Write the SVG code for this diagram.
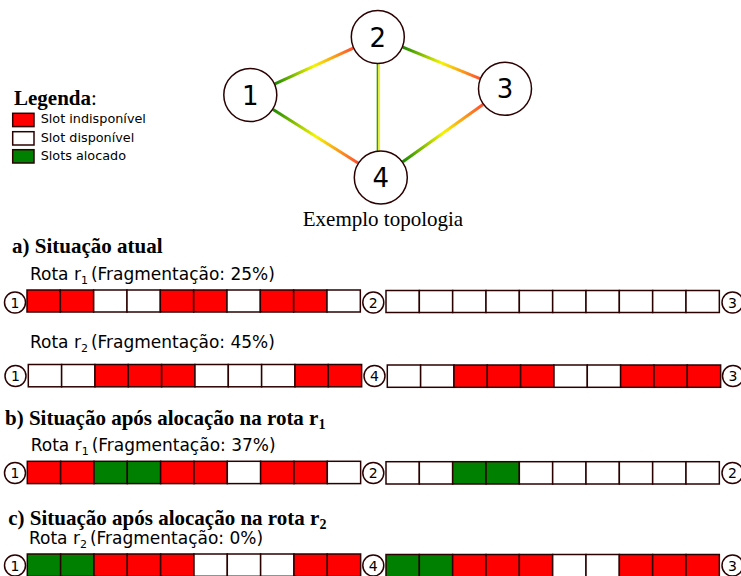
<svg xmlns="http://www.w3.org/2000/svg" width="741" height="576" viewBox="0 0 741 576">
<style>
.sans{font-family:"DejaVu Sans","Liberation Sans",sans-serif;fill:#000}
.serif{font-family:"Liberation Serif","Times New Roman",serif;fill:#000}
.node{fill:#fff;stroke:#2b0000;stroke-width:1.5}
.sm{fill:#fff;stroke:#2b0000;stroke-width:1.5}
.r{fill:#ff0000;stroke:#2b0000;stroke-width:1.5}
.w{fill:#fff;stroke:#2b0000;stroke-width:1.5}
.g{fill:#008000;stroke:#2b0000;stroke-width:1.5}
.edge{stroke-width:3;fill:none}
</style>
<defs>
<linearGradient id="g12" gradientUnits="userSpaceOnUse" x1="274.9" y1="83.8" x2="353.2" y2="48.2"><stop offset="0" stop-color="#1a8a00"/><stop offset="0.5" stop-color="#f5f500"/><stop offset="1" stop-color="#ff4f2f"/></linearGradient>
<linearGradient id="g14" gradientUnits="userSpaceOnUse" x1="273.1" y1="109.4" x2="358" y2="163.1"><stop offset="0" stop-color="#1a8a00"/><stop offset="0.5" stop-color="#f5f500"/><stop offset="1" stop-color="#ff4f2f"/></linearGradient>
<linearGradient id="g23" gradientUnits="userSpaceOnUse" x1="402.8" y1="47.2" x2="480" y2="78.6"><stop offset="0" stop-color="#1a8a00"/><stop offset="0.5" stop-color="#f5f500"/><stop offset="1" stop-color="#ff4f2f"/></linearGradient>
<linearGradient id="g43" gradientUnits="userSpaceOnUse" x1="402.8" y1="161.8" x2="483" y2="104.5"><stop offset="0" stop-color="#1a8a00"/><stop offset="0.5" stop-color="#f5f500"/><stop offset="1" stop-color="#ff4f2f"/></linearGradient>
</defs>
<rect width="741" height="576" fill="#fff"/>

<g id="connectors">
<line class="edge" x1="274.9" y1="83.8" x2="353.2" y2="48.2" stroke="url(#g12)"/>
<line class="edge" x1="273.1" y1="109.4" x2="358" y2="163.1" stroke="url(#g14)"/>
<line class="edge" x1="402.8" y1="47.2" x2="480" y2="78.6" stroke="url(#g23)"/>
<line class="edge" x1="402.8" y1="161.8" x2="483" y2="104.5" stroke="url(#g43)"/>
<line x1="377.5" y1="63" x2="377.5" y2="151" stroke="#3a9a20" stroke-width="1.7"/>
<line x1="379.2" y1="63" x2="379.2" y2="151" stroke="#f5f500" stroke-width="1.7"/>
</g>

<g id="node1"><circle class="node" cx="250.3" cy="95" r="26.5"/><text class="sans" x="250.3" y="104.5" font-size="26" text-anchor="middle">1</text></g>
<g id="node2"><circle class="node" cx="377.8" cy="37" r="26.5"/><text class="sans" x="377.8" y="46.5" font-size="26" text-anchor="middle">2</text></g>
<g id="node3"><circle class="node" cx="505" cy="88.8" r="26.5"/><text class="sans" x="505" y="98.3" font-size="26" text-anchor="middle">3</text></g>
<g id="node4"><circle class="node" cx="380.8" cy="177.5" r="26.5"/><text class="sans" x="380.8" y="187" font-size="26" text-anchor="middle">4</text></g>
<text class="serif" x="383" y="226" font-size="21" text-anchor="middle">Exemplo topologia</text>

<g id="legend">
<text class="serif" x="14" y="105" font-size="21"><tspan font-weight="bold">Legenda</tspan>:</text>
<rect class="r" x="12.7" y="113.3" width="21.3" height="13.3"/>
<text class="sans" x="40.7" y="122.7" font-size="12.8">Slot indisponível</text>
<rect class="w" x="12.7" y="131.7" width="21.3" height="13.3"/>
<text class="sans" x="40.7" y="141.5" font-size="12.8">Slot disponível</text>
<rect class="g" x="12.7" y="149.7" width="21.3" height="13.3"/>
<text class="sans" x="40.7" y="160" font-size="12.8">Slots alocado</text>
</g>

<g id="section-a">
<text class="serif" x="12" y="253.3" font-size="21" font-weight="bold">a) Situação atual</text>
<text class="sans" x="30" y="280" font-size="17">Rota r<tspan font-size="11" dy="4">1</tspan><tspan dx="3" dy="-4">(Fragmentação: 25%)</tspan></text>
<g transform="translate(27,290)">
<rect class="r" x="0" y="0" width="33.33" height="22"/><rect class="r" x="33.33" y="0" width="33.33" height="22"/><rect class="w" x="66.67" y="0" width="33.33" height="22"/><rect class="w" x="100" y="0" width="33.33" height="22"/><rect class="r" x="133.33" y="0" width="33.33" height="22"/><rect class="r" x="166.67" y="0" width="33.33" height="22"/><rect class="w" x="200" y="0" width="33.33" height="22"/><rect class="r" x="233.33" y="0" width="33.33" height="22"/><rect class="r" x="266.67" y="0" width="33.33" height="22"/><rect class="w" x="300" y="0" width="33.33" height="22"/>
</g>
<g transform="translate(386,290.5)">
<rect class="w" x="0" y="0" width="33.33" height="22"/><rect class="w" x="33.33" y="0" width="33.33" height="22"/><rect class="w" x="66.67" y="0" width="33.33" height="22"/><rect class="w" x="100" y="0" width="33.33" height="22"/><rect class="w" x="133.33" y="0" width="33.33" height="22"/><rect class="w" x="166.67" y="0" width="33.33" height="22"/><rect class="w" x="200" y="0" width="33.33" height="22"/><rect class="w" x="233.33" y="0" width="33.33" height="22"/><rect class="w" x="266.67" y="0" width="33.33" height="22"/><rect class="w" x="300" y="0" width="33.33" height="22"/>
</g>
<circle class="sm" cx="15" cy="302.5" r="10.5"/><text class="sans" x="15" y="307.5" font-size="14" text-anchor="middle">1</text>
<circle class="sm" cx="373.3" cy="302.5" r="10.5"/><text class="sans" x="373.3" y="307.5" font-size="14" text-anchor="middle">2</text>
<circle class="sm" cx="732.5" cy="302.5" r="10.5"/><text class="sans" x="732.5" y="307.5" font-size="14" text-anchor="middle">3</text>

<text class="sans" x="30" y="348.3" font-size="17">Rota r<tspan font-size="11" dy="4">2</tspan><tspan dx="3" dy="-4">(Fragmentação: 45%)</tspan></text>
<g transform="translate(28.3,364.5)">
<rect class="w" x="0" y="0" width="33.33" height="22.3"/><rect class="w" x="33.33" y="0" width="33.33" height="22.3"/><rect class="r" x="66.67" y="0" width="33.33" height="22.3"/><rect class="r" x="100" y="0" width="33.33" height="22.3"/><rect class="r" x="133.33" y="0" width="33.33" height="22.3"/><rect class="w" x="166.67" y="0" width="33.33" height="22.3"/><rect class="w" x="200" y="0" width="33.33" height="22.3"/><rect class="w" x="233.33" y="0" width="33.33" height="22.3"/><rect class="r" x="266.67" y="0" width="33.33" height="22.3"/><rect class="r" x="300" y="0" width="33.33" height="22.3"/>
</g>
<g transform="translate(387.3,365)">
<rect class="w" x="0" y="0" width="33.33" height="22.3"/><rect class="w" x="33.33" y="0" width="33.33" height="22.3"/><rect class="r" x="66.67" y="0" width="33.33" height="22.3"/><rect class="r" x="100" y="0" width="33.33" height="22.3"/><rect class="r" x="133.33" y="0" width="33.33" height="22.3"/><rect class="w" x="166.67" y="0" width="33.33" height="22.3"/><rect class="w" x="200" y="0" width="33.33" height="22.3"/><rect class="r" x="233.33" y="0" width="33.33" height="22.3"/><rect class="r" x="266.67" y="0" width="33.33" height="22.3"/><rect class="r" x="300" y="0" width="33.33" height="22.3"/>
</g>
<circle class="sm" cx="15.5" cy="376" r="10.5"/><text class="sans" x="15.5" y="381" font-size="14" text-anchor="middle">1</text>
<circle class="sm" cx="374.5" cy="376" r="10.5"/><text class="sans" x="374.5" y="381" font-size="14" text-anchor="middle">4</text>
<circle class="sm" cx="733" cy="376" r="10.5"/><text class="sans" x="733" y="381" font-size="14" text-anchor="middle">3</text>
</g>

<g id="section-b">
<text class="serif" x="5" y="425" font-size="21" font-weight="bold">b) Situação após alocação na rota r<tspan font-size="14" dy="4">1</tspan></text>
<text class="sans" x="30.7" y="450.7" font-size="17">Rota r<tspan font-size="11" dy="4">1</tspan><tspan dx="3" dy="-4">(Fragmentação: 37%)</tspan></text>
<g transform="translate(27.3,461.3)">
<rect class="r" x="0" y="0" width="33.33" height="22.3"/><rect class="r" x="33.33" y="0" width="33.33" height="22.3"/><rect class="g" x="66.67" y="0" width="33.33" height="22.3"/><rect class="g" x="100" y="0" width="33.33" height="22.3"/><rect class="r" x="133.33" y="0" width="33.33" height="22.3"/><rect class="r" x="166.67" y="0" width="33.33" height="22.3"/><rect class="w" x="200" y="0" width="33.33" height="22.3"/><rect class="r" x="233.33" y="0" width="33.33" height="22.3"/><rect class="r" x="266.67" y="0" width="33.33" height="22.3"/><rect class="w" x="300" y="0" width="33.33" height="22.3"/>
</g>
<g transform="translate(386,461.7)">
<rect class="w" x="0" y="0" width="33.33" height="22.3"/><rect class="w" x="33.33" y="0" width="33.33" height="22.3"/><rect class="g" x="66.67" y="0" width="33.33" height="22.3"/><rect class="g" x="100" y="0" width="33.33" height="22.3"/><rect class="w" x="133.33" y="0" width="33.33" height="22.3"/><rect class="w" x="166.67" y="0" width="33.33" height="22.3"/><rect class="w" x="200" y="0" width="33.33" height="22.3"/><rect class="w" x="233.33" y="0" width="33.33" height="22.3"/><rect class="w" x="266.67" y="0" width="33.33" height="22.3"/><rect class="w" x="300" y="0" width="33.33" height="22.3"/>
</g>
<circle class="sm" cx="15" cy="473" r="10.5"/><text class="sans" x="15" y="478" font-size="14" text-anchor="middle">1</text>
<circle class="sm" cx="373.3" cy="473" r="10.5"/><text class="sans" x="373.3" y="478" font-size="14" text-anchor="middle">2</text>
<circle class="sm" cx="732.5" cy="473" r="10.5"/><text class="sans" x="732.5" y="478" font-size="14" text-anchor="middle">2</text>
</g>

<g id="section-c">
<text class="serif" x="8.3" y="525" font-size="21" font-weight="bold">c) Situação após alocação na rota r<tspan font-size="14" dy="4">2</tspan></text>
<text class="sans" x="29" y="544" font-size="17">Rota r<tspan font-size="11" dy="4">2</tspan><tspan dx="3" dy="-4">(Fragmentação: 0%)</tspan></text>
<g transform="translate(27.3,554)">
<rect class="g" x="0" y="0" width="33.33" height="22.3"/><rect class="g" x="33.33" y="0" width="33.33" height="22.3"/><rect class="r" x="66.67" y="0" width="33.33" height="22.3"/><rect class="r" x="100" y="0" width="33.33" height="22.3"/><rect class="r" x="133.33" y="0" width="33.33" height="22.3"/><rect class="w" x="166.67" y="0" width="33.33" height="22.3"/><rect class="w" x="200" y="0" width="33.33" height="22.3"/><rect class="w" x="233.33" y="0" width="33.33" height="22.3"/><rect class="r" x="266.67" y="0" width="33.33" height="22.3"/><rect class="r" x="300" y="0" width="33.33" height="22.3"/>
</g>
<g transform="translate(386,554.5)">
<rect class="g" x="0" y="0" width="33.33" height="22.3"/><rect class="g" x="33.33" y="0" width="33.33" height="22.3"/><rect class="r" x="66.67" y="0" width="33.33" height="22.3"/><rect class="r" x="100" y="0" width="33.33" height="22.3"/><rect class="r" x="133.33" y="0" width="33.33" height="22.3"/><rect class="w" x="166.67" y="0" width="33.33" height="22.3"/><rect class="w" x="200" y="0" width="33.33" height="22.3"/><rect class="r" x="233.33" y="0" width="33.33" height="22.3"/><rect class="r" x="266.67" y="0" width="33.33" height="22.3"/><rect class="r" x="300" y="0" width="33.33" height="22.3"/>
</g>
<circle class="sm" cx="15" cy="565.5" r="10.5"/><text class="sans" x="15" y="570.5" font-size="14" text-anchor="middle">1</text>
<circle class="sm" cx="373.3" cy="565.5" r="10.5"/><text class="sans" x="373.3" y="570.5" font-size="14" text-anchor="middle">4</text>
<circle class="sm" cx="732.5" cy="565.5" r="10.5"/><text class="sans" x="732.5" y="570.5" font-size="14" text-anchor="middle">3</text>
</g>
</svg>
